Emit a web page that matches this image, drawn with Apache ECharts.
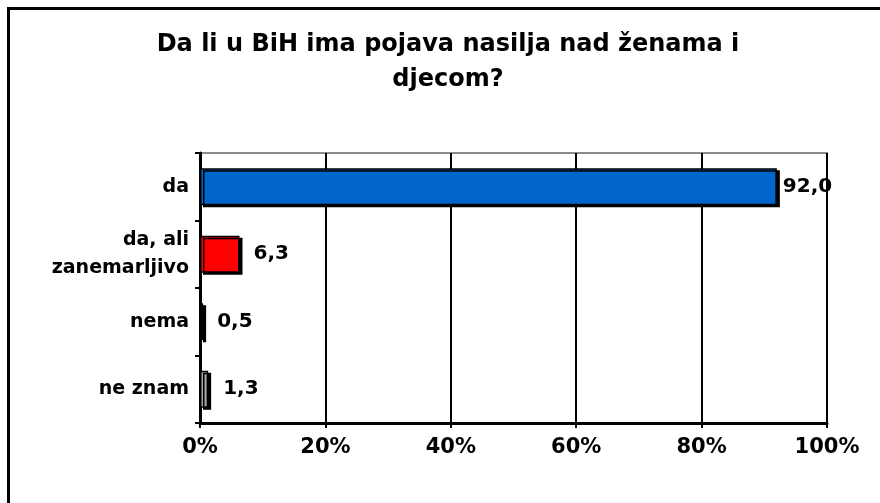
<!DOCTYPE html>
<html>
<head>
<meta charset="utf-8">
<script src="https://cdn.jsdelivr.net/npm/echarts@6/dist/echarts.min.js"></script>
<style>
  html, body { margin: 0; padding: 0; background: #fff; }
  #chart { width: 880px; height: 503px; }
</style>
</head>
<body>
<div id="chart"></div>
<script>
const titleText = 'Da li u BiH ima pojava nasilja nad ženama i\ndjecom?'
const categories = ['da', 'da, ali\nzanemarljivo', 'nema', 'ne znam']
const values = [92.0, 6.3, 0.5, 1.3]
const barColors = ['#0066CC', '#FF0000', '#000000', '#A6A6A6']
const labelGaps = [6, 14, 14, 15]
const xTicks = [0, 20, 40, 60, 80, 100]

const font = 'DejaVu Sans'

const chart = echarts.init(document.getElementById('chart'))

const option = {
  animation: false,
  backgroundColor: '#fff',
  title: {
    text: titleText,
    left: 443,
    top: 22,
    textAlign: 'center',
    textStyle: {
      fontFamily: font,
      fontWeight: 'bold',
      fontSize: 24,
      lineHeight: 35,
      color: '#000'
    }
  },
  graphic: [
    {
      type: 'rect',
      shape: { x: 8.5, y: 8.5, width: 1000, height: 1000 },
      style: { fill: 'none', stroke: '#000', lineWidth: 3 },
      silent: true
    }
  ],
  grid: {
    left: 200,
    right: 53,
    top: 153,
    bottom: 80,
    show: true,
    borderColor: '#8c8c8c',
    borderWidth: 2,
    backgroundColor: '#fff'
  },
  xAxis: {
    type: 'value',
    min: xTicks[0],
    max: xTicks[xTicks.length - 1],
    interval: 20,
    axisLine: { show: true, lineStyle: { color: '#000', width: 3 } },
    axisTick: { show: true, length: 5, lineStyle: { color: '#000', width: 2 } },
    splitLine: { show: true, lineStyle: { color: '#000', width: 2 } },
    axisLabel: {
      formatter: '{value}%',
      margin: 14,
      fontFamily: font,
      fontWeight: 'bold',
      fontSize: 21,
      color: '#000'
    }
  },
  yAxis: {
    type: 'category',
    inverse: true,
    data: categories,
    axisLine: { show: true, lineStyle: { color: '#000', width: 3 } },
    axisTick: { show: true, length: 5, lineStyle: { color: '#000', width: 2 } },
    axisLabel: {
      margin: 11,
      fontFamily: font,
      fontWeight: 'bold',
      fontSize: 19,
      lineHeight: 28,
      color: '#000',
      align: 'right'
    }
  },
  series: [
    {
      type: 'bar',
      barWidth: 37,
      data: values.map((v, i) => ({
        value: v,
        itemStyle: { color: barColors[i] },
        label: { distance: labelGaps[i] }
      })),
      itemStyle: {
        borderColor: '#000',
        borderWidth: 1.5,
        shadowColor: '#000',
        shadowOffsetX: 3,
        shadowOffsetY: 2,
        shadowBlur: 0
      },
      label: {
        show: true,
        position: 'right',
        formatter: p => p.value.toFixed(1).replace('.', ','),
        fontFamily: font,
        fontWeight: 'bold',
        fontSize: 20,
        color: '#000'
      }
    }
  ]
}

chart.setOption(option)
</script>
</body>
</html>
